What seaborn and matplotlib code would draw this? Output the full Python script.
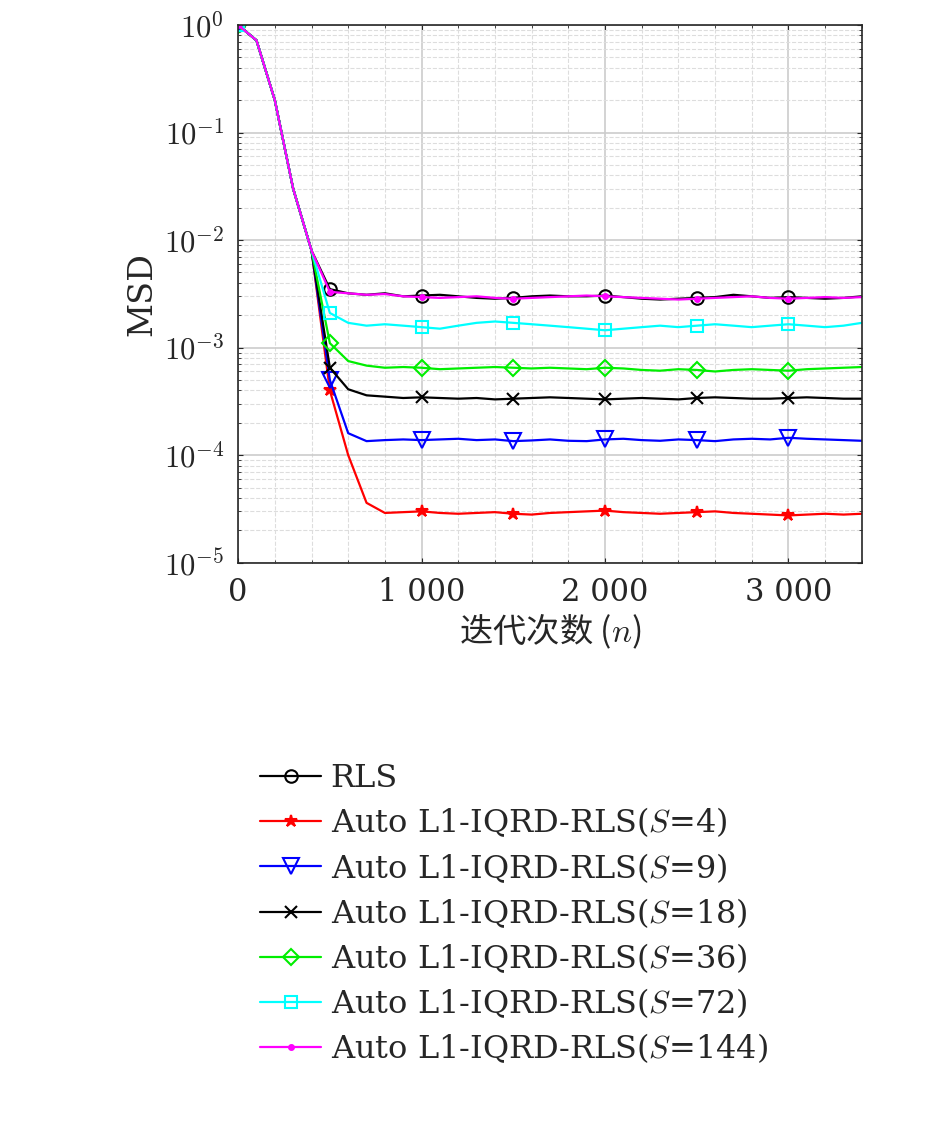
import matplotlib
matplotlib.use("Agg")
import matplotlib.pyplot as plt
import seaborn as sns
import pandas as pd
import numpy as np
from matplotlib.ticker import FixedLocator, LogLocator, NullFormatter

n = list(range(0, 3401, 100))
trans = [1.0, 0.72, 0.2, 0.03, 0.008]
rls  = trans + [3.5e-3, 3.2e-3, 3.1e-3, 3.2e-3, 3.0e-3, 3.05e-3, 3.1e-3, 3.0e-3, 2.9e-3, 2.85e-3, 2.9e-3, 3.0e-3, 3.05e-3, 3.0e-3, 3.0e-3, 3.05e-3, 2.95e-3, 2.85e-3, 2.8e-3, 2.85e-3, 2.9e-3, 2.95e-3, 3.1e-3, 3.0e-3, 2.9e-3, 2.95e-3, 2.9e-3, 2.85e-3, 2.9e-3, 3.0e-3]
s4   = trans + [4.0e-4, 1.0e-4, 3.6e-5, 2.9e-5, 2.95e-5, 3.0e-5, 2.9e-5, 2.85e-5, 2.9e-5, 2.95e-5, 2.85e-5, 2.8e-5, 2.9e-5, 2.95e-5, 3.0e-5, 3.05e-5, 2.95e-5, 2.9e-5, 2.85e-5, 2.9e-5, 2.95e-5, 3.0e-5, 2.9e-5, 2.85e-5, 2.8e-5, 2.75e-5, 2.8e-5, 2.85e-5, 2.8e-5, 2.85e-5]
s9   = trans + [5.0e-4, 1.6e-4, 1.35e-4, 1.38e-4, 1.4e-4, 1.38e-4, 1.4e-4, 1.42e-4, 1.38e-4, 1.4e-4, 1.35e-4, 1.37e-4, 1.4e-4, 1.36e-4, 1.35e-4, 1.4e-4, 1.42e-4, 1.38e-4, 1.36e-4, 1.4e-4, 1.38e-4, 1.35e-4, 1.4e-4, 1.42e-4, 1.4e-4, 1.45e-4, 1.42e-4, 1.4e-4, 1.38e-4, 1.36e-4]
s18  = trans + [6.5e-4, 4.1e-4, 3.6e-4, 3.5e-4, 3.4e-4, 3.45e-4, 3.4e-4, 3.35e-4, 3.4e-4, 3.3e-4, 3.35e-4, 3.4e-4, 3.45e-4, 3.4e-4, 3.35e-4, 3.3e-4, 3.35e-4, 3.4e-4, 3.35e-4, 3.3e-4, 3.4e-4, 3.45e-4, 3.4e-4, 3.35e-4, 3.35e-4, 3.4e-4, 3.45e-4, 3.4e-4, 3.35e-4, 3.35e-4]
s36  = trans + [1.1e-3, 7.5e-4, 6.8e-4, 6.5e-4, 6.6e-4, 6.5e-4, 6.3e-4, 6.4e-4, 6.5e-4, 6.6e-4, 6.5e-4, 6.4e-4, 6.5e-4, 6.4e-4, 6.3e-4, 6.5e-4, 6.4e-4, 6.2e-4, 6.1e-4, 6.3e-4, 6.2e-4, 6.0e-4, 6.2e-4, 6.3e-4, 6.2e-4, 6.1e-4, 6.3e-4, 6.4e-4, 6.5e-4, 6.6e-4]
s72  = trans + [2.1e-3, 1.7e-3, 1.6e-3, 1.65e-3, 1.6e-3, 1.55e-3, 1.5e-3, 1.6e-3, 1.7e-3, 1.75e-3, 1.7e-3, 1.65e-3, 1.6e-3, 1.55e-3, 1.5e-3, 1.45e-3, 1.5e-3, 1.55e-3, 1.6e-3, 1.55e-3, 1.6e-3, 1.65e-3, 1.6e-3, 1.55e-3, 1.6e-3, 1.65e-3, 1.6e-3, 1.55e-3, 1.6e-3, 1.7e-3]
s144 = trans + [3.3e-3, 3.2e-3, 3.1e-3, 3.15e-3, 3.0e-3, 2.95e-3, 2.9e-3, 2.95e-3, 3.0e-3, 2.9e-3, 2.85e-3, 2.9e-3, 2.95e-3, 3.0e-3, 3.05e-3, 3.0e-3, 2.95e-3, 2.9e-3, 2.85e-3, 2.8e-3, 2.85e-3, 2.9e-3, 2.95e-3, 3.0e-3, 2.9e-3, 2.85e-3, 2.9e-3, 2.95e-3, 2.9e-3, 2.95e-3]

labels = ["RLS"] + [r"Auto L1-IQRD-RLS($S$=%d)" % s for s in [4, 9, 18, 36, 72, 144]]
series = [rls, s4, s9, s18, s36, s72, s144]
colors = ["black", "red", "blue", "black", "#00ee00", "cyan", "magenta"]
markers = ["o", "*", "v", "x", "D", "s", "."]
msizes = [9, 9, 11, 8, 8, 8, 7]
xticks = [0, 1000, 2000, 3000]
xticklabels = ["0", "1 000", "2 000", "3 000"]

sns.set_style("ticks")
plt.rcParams["font.family"] = ["DejaVu Serif", "Noto Sans CJK SC"]
plt.rcParams["mathtext.fontset"] = "cm"

fig = plt.figure(figsize=(9.45, 11.39), dpi=100)
ax = fig.add_axes([0.252, 0.506, 0.66, 0.472])
for y, lab, c, m, ms in zip(series, labels, colors, markers, msizes):
    df = pd.DataFrame({"n": n, "msd": y})
    mfc = c if m in ("*", ".", "x") else "none"
    sns.lineplot(data=df, x="n", y="msd", ax=ax, color=c, marker=m, markersize=ms,
                 markerfacecolor=mfc, markeredgecolor=c, markeredgewidth=1.5,
                 linewidth=1.6, markevery=5, label=lab)
ax.set_yscale("log")
ax.set_xlim(0, 3400)
ax.set_ylim(1e-5, 1)
ax.set_xticks(xticks)
ax.set_xticklabels(xticklabels)
ax.set_yticks([10.0**k for k in range(-5, 1)])
ax.set_yticklabels([r"$10^{%d}$" % k for k in range(-5, 1)])
ax.yaxis.set_minor_locator(LogLocator(base=10, subs=np.arange(2, 10)))
ax.yaxis.set_minor_formatter(NullFormatter())
ax.xaxis.set_minor_locator(FixedLocator(list(range(0, 3401, 200))))
ax.grid(True, which="major", color="#cccccc", linewidth=1.2)
ax.grid(True, which="minor", color="#dddddd", linestyle="--", linewidth=0.8)
ax.tick_params(direction="in", which="both", top=True, right=True, labelsize=22, pad=10)
for sp in ax.spines.values():
    sp.set_linewidth(1.2)
ax.set_ylabel("MSD", fontsize=24, family="DejaVu Serif")
ax.set_xlabel(r"迭代次数 ($n$)", fontsize=24, family=["Noto Sans CJK SC", "DejaVu Sans"])
h, l = ax.get_legend_handles_labels()
ax.legend_.remove()
fig.legend(h, l, loc="upper left", bbox_to_anchor=(0.245, 0.355), frameon=False,
           fontsize=23, handlelength=1.9, handletextpad=0.3, labelspacing=0.35)
fig.savefig("out.png", dpi=100)
